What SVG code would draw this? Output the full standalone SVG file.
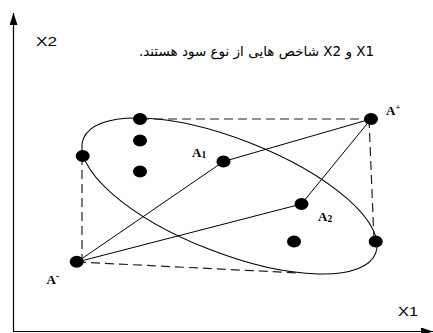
<svg xmlns="http://www.w3.org/2000/svg" width="433" height="333" viewBox="0 0 433 333">
<defs>
<marker id="arr" viewBox="0 0 12 8" refX="12" refY="4" markerWidth="12" markerHeight="8" markerUnits="userSpaceOnUse" orient="auto">
<path d="M0,0 L12,4 L0,8 Z" fill="#000"/>
</marker>
</defs>
<style>
.ax{stroke:#000;stroke-width:1.2;fill:none}
.sol{stroke:#000;stroke-width:1;fill:none}
.dash{stroke:#222;stroke-width:1.2;stroke-dasharray:9,5;fill:none}
.dot{fill:#000}
.lbl{font-family:"Liberation Serif","Times New Roman",serif;font-weight:bold;font-size:13px;fill:#000}
.ax-t{font-family:"Liberation Sans",Arial,sans-serif;font-size:13px;fill:#000}
.fa{font-family:"DejaVu Sans","Liberation Sans",sans-serif;font-size:13.5px;fill:#000}
</style>
<g id="axes">
<line class="ax" x1="13.5" y1="332" x2="13.5" y2="13" marker-end="url(#arr)"/>
<line class="ax" x1="13" y1="331.5" x2="433" y2="331.5" marker-end="url(#arr)"/>
<text class="ax-t" x="36" y="45.5" textLength="21" lengthAdjust="spacingAndGlyphs">X2</text>
<text class="ax-t" x="398" y="315.5" textLength="20" lengthAdjust="spacingAndGlyphs">X1</text>
</g>
<g id="note">
<text class="fa" x="256.5" y="56" text-anchor="middle" direction="rtl" unicode-bidi="embed">X1 و X2 شاخص هایی از نوع سود هستند.</text>
</g>
<g id="connectors">
<ellipse class="sol" cx="229.5" cy="196" rx="157" ry="57" transform="rotate(21.4 229.5 196)"/>
<line class="dash" x1="140" y1="119" x2="371" y2="119"/>
<line class="dash" x1="369" y1="119" x2="374" y2="240"/>
<line class="dash" x1="82" y1="156" x2="82" y2="258"/>
<line class="dash" x1="77" y1="262" x2="300" y2="273"/>
<line class="sol" x1="77" y1="262" x2="223.5" y2="161.5"/>
<line class="sol" x1="77" y1="262" x2="301.5" y2="204"/>
<line class="sol" x1="371" y1="119" x2="223.5" y2="161.5"/>
<line class="sol" x1="371" y1="119" x2="301.5" y2="204"/>
</g>
<g id="p1"><ellipse class="dot" cx="140" cy="119" rx="7" ry="6"/></g>
<g id="p2"><ellipse class="dot" cx="140" cy="140.5" rx="7" ry="6"/></g>
<g id="p3"><ellipse class="dot" cx="140" cy="171.5" rx="7" ry="6"/></g>
<g id="p4"><ellipse class="dot" cx="82.7" cy="156" rx="7" ry="6"/></g>
<g id="p5"><ellipse class="dot" cx="294" cy="241.5" rx="7" ry="6"/></g>
<g id="p6"><ellipse class="dot" cx="375.7" cy="241.5" rx="7" ry="6"/></g>
<g id="A1"><ellipse class="dot" cx="223.5" cy="161.5" rx="7" ry="6"/><text class="lbl" x="192" y="157">A<tspan font-size="9.5" dy="1">1</tspan></text></g>
<g id="A2"><ellipse class="dot" cx="301.5" cy="204" rx="7" ry="6"/><text class="lbl" x="318" y="221">A<tspan font-size="9.5" dy="1">2</tspan></text></g>
<g id="Aplus"><ellipse class="dot" cx="371" cy="119" rx="7" ry="6"/><text class="lbl" x="386" y="114.5">A<tspan font-size="8.5" dy="-4.5">+</tspan></text></g>
<g id="Aminus"><ellipse class="dot" cx="76.7" cy="261.7" rx="7" ry="6"/><text class="lbl" x="46.5" y="283.5">A<tspan font-size="9.5" dy="-5">-</tspan></text></g>
</svg>
